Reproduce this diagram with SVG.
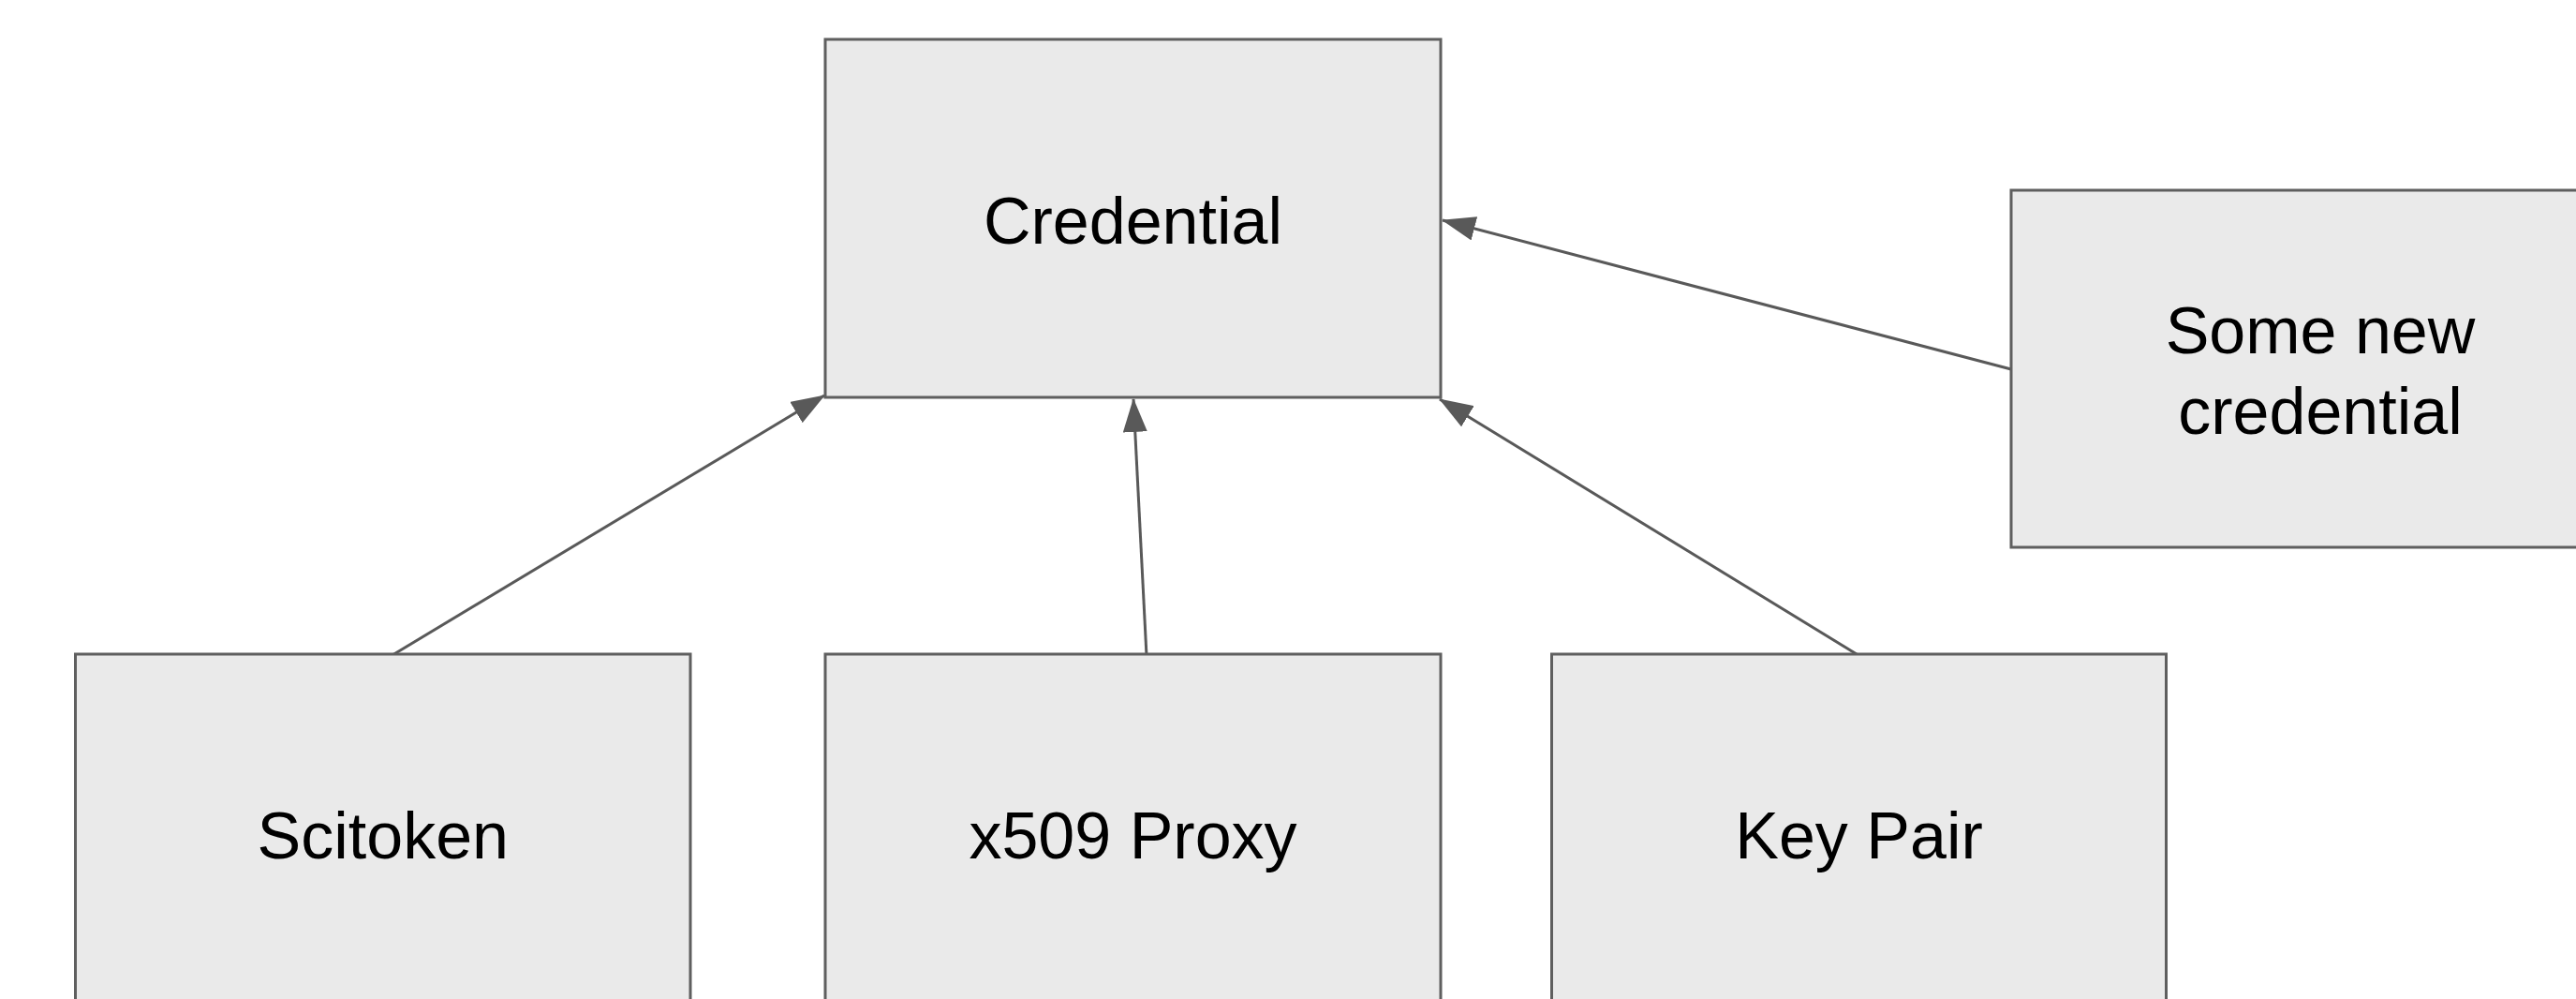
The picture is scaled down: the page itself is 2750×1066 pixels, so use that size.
<svg xmlns="http://www.w3.org/2000/svg" width="2750" height="1066" viewBox="0 0 2750 1066">
<style>
.box{fill:#eaeaea;stroke:#5f5f5f;stroke-width:3}
.lbl{font-family:"Liberation Sans",Arial,sans-serif;font-size:70px;fill:#000;text-anchor:middle}
.edge{stroke:#595959;stroke-width:3;fill:none;marker-end:url(#arr)}
</style>
<defs>
<marker id="arr" markerUnits="userSpaceOnUse" markerWidth="36" markerHeight="26" refX="35" refY="13" orient="auto">
<path d="M0,0 L36,13 L0,26 z" fill="#595959"/>
</marker>
</defs>
<rect width="2750" height="1066" fill="#fff"/>
<g id="edges">
<line class="edge" x1="414" y1="702" x2="880" y2="422"/>
<line class="edge" x1="1224" y1="700" x2="1210" y2="426"/>
<line class="edge" x1="1982" y1="698" x2="1537" y2="426"/>
<line class="edge" x1="2147" y1="394" x2="1540" y2="235"/>
</g>
<g id="credential">
<rect class="box" x="881" y="42" width="657" height="382"/>
<text class="lbl" x="1209.5" y="260">Credential</text>
</g>
<g id="some-new-credential">
<rect class="box" x="2147" y="203" width="660" height="381"/>
<text class="lbl" x="2477" y="377">Some new</text>
<text class="lbl" x="2477" y="463">credential</text>
</g>
<g id="scitoken">
<rect class="box" x="80.5" y="698" width="656.5" height="382"/>
<text class="lbl" x="408.8" y="916">Scitoken</text>
</g>
<g id="x509-proxy">
<rect class="box" x="881" y="698" width="657" height="382"/>
<text class="lbl" x="1209.5" y="916">x509 Proxy</text>
</g>
<g id="key-pair">
<rect class="box" x="1656.5" y="698" width="656" height="382"/>
<text class="lbl" x="1984.5" y="916">Key Pair</text>
</g>
</svg>
